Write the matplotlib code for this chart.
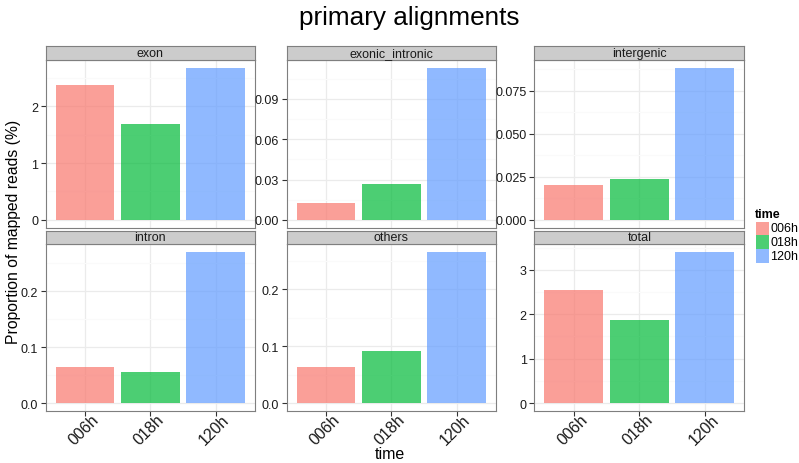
import matplotlib
matplotlib.use("Agg")
import matplotlib.pyplot as plt
import matplotlib.transforms as mtransforms
from matplotlib.ticker import FixedLocator

plt.rcParams['font.family'] = ['Liberation Sans', 'DejaVu Sans']

times = ["006h", "018h", "120h"]
colors = ["#F8766D", "#00BA38", "#619CFF"]

facets = ["exon", "exonic_intronic", "intergenic", "intron", "others", "total"]
exon = [2.37, 1.68, 2.68]
exonic_intronic = [0.0126, 0.0267, 0.1133]
intergenic = [0.0203, 0.0237, 0.0885]
intron = [0.0646, 0.0557, 0.271]
others = [0.0634, 0.0913, 0.266]
total = [2.54, 1.865, 3.41]
values = [exon, exonic_intronic, intergenic, intron, others, total]

yticks = [
    [0, 1, 2],
    [0.00, 0.03, 0.06, 0.09],
    [0.000, 0.025, 0.050, 0.075],
    [0.0, 0.1, 0.2],
    [0.0, 0.1, 0.2],
    [0, 1, 2, 3],
]
ytick_labels = [
    ["0", "1", "2"],
    ["0.00", "0.03", "0.06", "0.09"],
    ["0.000", "0.025", "0.050", "0.075"],
    ["0.0", "0.1", "0.2"],
    ["0.0", "0.1", "0.2"],
    ["0", "1", "2", "3"],
]

W, H = 799, 464
fig = plt.figure(figsize=(W / 100, H / 100), dpi=100)

col_x = [(45.7, 255.0), (286.7, 496.0), (534.3, 744.3)]
row_y = [((46.7, 61.0), (61.0, 228.5)), ((231.7, 245.0), (245.0, 411.7))]

def px_rect(x0, y0, x1, y1):
    return [x0 / W, 1 - y1 / H, (x1 - x0) / W, (y1 - y0) / H]

# shift for the rotated category labels (right and up, in pixels)
label_shift = mtransforms.ScaledTranslation(6 / 100, 4 / 100, fig.dpi_scale_trans)

border = "#7F7F7F"
for i, name in enumerate(facets):
    r, c = divmod(i, 3)
    (sx0, sx1) = col_x[c]
    (st, sb), (pt, pb) = row_y[r]

    # panel
    ax = fig.add_axes(px_rect(sx0, pt, sx1, pb))
    vals = values[i]
    vmax = max(vals)
    ax.set_xlim(0.4, 3.6)
    ax.set_ylim(-0.05 * vmax, 1.05 * vmax)
    ax.set_axisbelow(True)

    ticks = yticks[i]
    step = ticks[1] - ticks[0]
    minor = [t + step / 2 for t in ticks] + [ticks[0] - step / 2]
    ax.yaxis.set_minor_locator(FixedLocator(minor))
    ax.grid(which="minor", axis="y", color="#FAFAFA", linewidth=0.8)
    ax.set_yticks(ticks)
    ax.set_yticklabels(ytick_labels[i])
    ax.set_xticks([1, 2, 3])
    ax.grid(which="major", color="#EBEBEB", linewidth=0.9)
    ax.tick_params(axis="y", which="minor", length=0)

    ax.bar([1, 2, 3], vals, width=0.9, color=colors, alpha=0.7, linewidth=0)

    for sp in ax.spines.values():
        sp.set_color(border); sp.set_linewidth(0.8)
    ax.tick_params(axis="y", which="major", length=3.5, color="#333333",
                   labelsize=9, labelcolor="#1A1A1A", pad=2)
    if r == 1:
        ax.set_xticklabels(times, rotation=45, ha="right", va="top",
                           rotation_mode="anchor", fontsize=11.5, color="#1A1A1A")
        ax.tick_params(axis="x", length=3.5, color="#333333", pad=0)
        for lab in ax.get_xticklabels():
            lab.set_transform(lab.get_transform() + label_shift)
    else:
        ax.set_xticklabels([])
        ax.tick_params(axis="x", length=0)

    # strip on top of the panel so descenders stay visible
    sax = fig.add_axes(px_rect(sx0, st, sx1, sb))
    sax.set_zorder(5)
    sax.set_facecolor("#CCCCCC")
    sax.set_xticks([]); sax.set_yticks([])
    for sp in sax.spines.values():
        sp.set_color(border); sp.set_linewidth(0.8)
    sax.text(0.5, 0.5, name, ha="center", va="center", fontsize=9,
             color="#1A1A1A", transform=sax.transAxes, clip_on=False)

fig.text(409 / W, 1 - 18 / H, "primary alignments", ha="center", va="center",
         fontsize=18.8, color="black")
fig.text(14 / W, 1 - 232 / H, "Proportion of mapped reads (%)", ha="center",
         va="center", rotation=90, fontsize=11.3, color="black")
fig.text(390 / W, 1 - 455 / H, "time", ha="center", va="center",
         fontsize=11.5, color="black")

# legend
fig.text(755 / W, 1 - 215 / H, "time", ha="left", va="center", fontsize=9,
         fontweight="bold", color="black")
for k, (t, col) in enumerate(zip(times, colors)):
    y0 = 222.7 + k * 13.6
    lax = fig.add_axes(px_rect(755.7, y0, 769.3, y0 + 13.6))
    lax.set_xlim(0, 1); lax.set_ylim(0, 1)
    lax.add_patch(plt.Rectangle((0, 0), 1, 1, color=col, alpha=0.7, linewidth=0))
    lax.axis("off")
    fig.text(770.5 / W, 1 - (y0 + 6.8) / H, t, ha="left", va="center",
             fontsize=9, color="black")

fig.savefig("out.png", dpi=100)
